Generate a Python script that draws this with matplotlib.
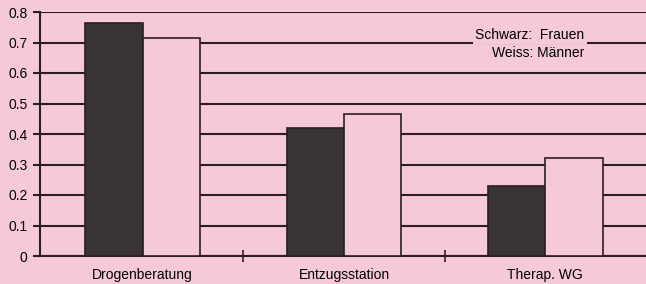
import numpy as np
import matplotlib.pyplot as plt
from matplotlib.ticker import FixedLocator

plt.rcParams['font.family'] = ['Liberation Sans', 'DejaVu Sans']

kategorien = ['Drogenberatung', 'Entzugsstation', 'Therap. WG']
frauen = [0.763, 0.42, 0.23]
maenner = [0.714, 0.464, 0.32]
yticks = [0, 0.1, 0.2, 0.3, 0.4, 0.5, 0.6, 0.7, 0.8]
ylabels = ['0', '0.1', '0.2', '0.3', '0.4', '0.5', '0.6', '0.7', '0.8']

rosa = '#f6c9d8'
dunkel = '#3a3334'
linie = '#2a1e1f'

fig = plt.figure(figsize=(6.46, 2.84), dpi=100, facecolor=rosa)
ax = fig.add_axes([40 / 646, 28 / 284, 606 / 646, 244 / 284])
ax.set_facecolor(rosa)

x = np.arange(len(kategorien))
w = 0.285
ax.bar(x - w / 2, frauen, w, color=dunkel, edgecolor=linie, linewidth=1.2, zorder=3)
ax.bar(x + w / 2, maenner, w, color=rosa, edgecolor=linie, linewidth=1.2, zorder=3)

ax.set_xlim(-0.51, 2.5)
ax.set_ylim(0, 0.8)
ax.set_yticks(yticks)
ax.set_yticklabels(ylabels, fontsize=10)
ax.yaxis.grid(True, color=linie, linewidth=1.5, zorder=1)
ax.set_axisbelow(True)

# kleine Striche zwischen den Gruppen
ax.xaxis.set_major_locator(FixedLocator([0.5, 1.5]))
ax.xaxis.set_major_formatter(plt.NullFormatter())
ax.tick_params(axis='x', which='major', direction='inout', length=8, width=1.2, color=linie)
ax.tick_params(axis='y', direction='out', length=5, width=1.5, color=linie, pad=4)
for xi, name in zip(x, kategorien):
    ax.text(xi, -0.04, name, ha='center', va='top', fontsize=10, clip_on=False)

for s in ['top', 'right']:
    ax.spines[s].set_visible(False)
ax.spines['left'].set_color(linie)
ax.spines['left'].set_linewidth(1.5)
ax.spines['bottom'].set_color(linie)
ax.spines['bottom'].set_linewidth(1.5)
ax.spines['left'].set_zorder(4)

ax.text(2.195, 0.724, 'Schwarz:  Frauen', ha='right', va='center', fontsize=10, zorder=5,
        bbox=dict(facecolor=rosa, edgecolor='none', pad=1.5))
ax.text(2.195, 0.665, 'Weiss: Männer', ha='right', va='center', fontsize=10, zorder=5)

fig.savefig('out.png', dpi=100, facecolor=rosa)
